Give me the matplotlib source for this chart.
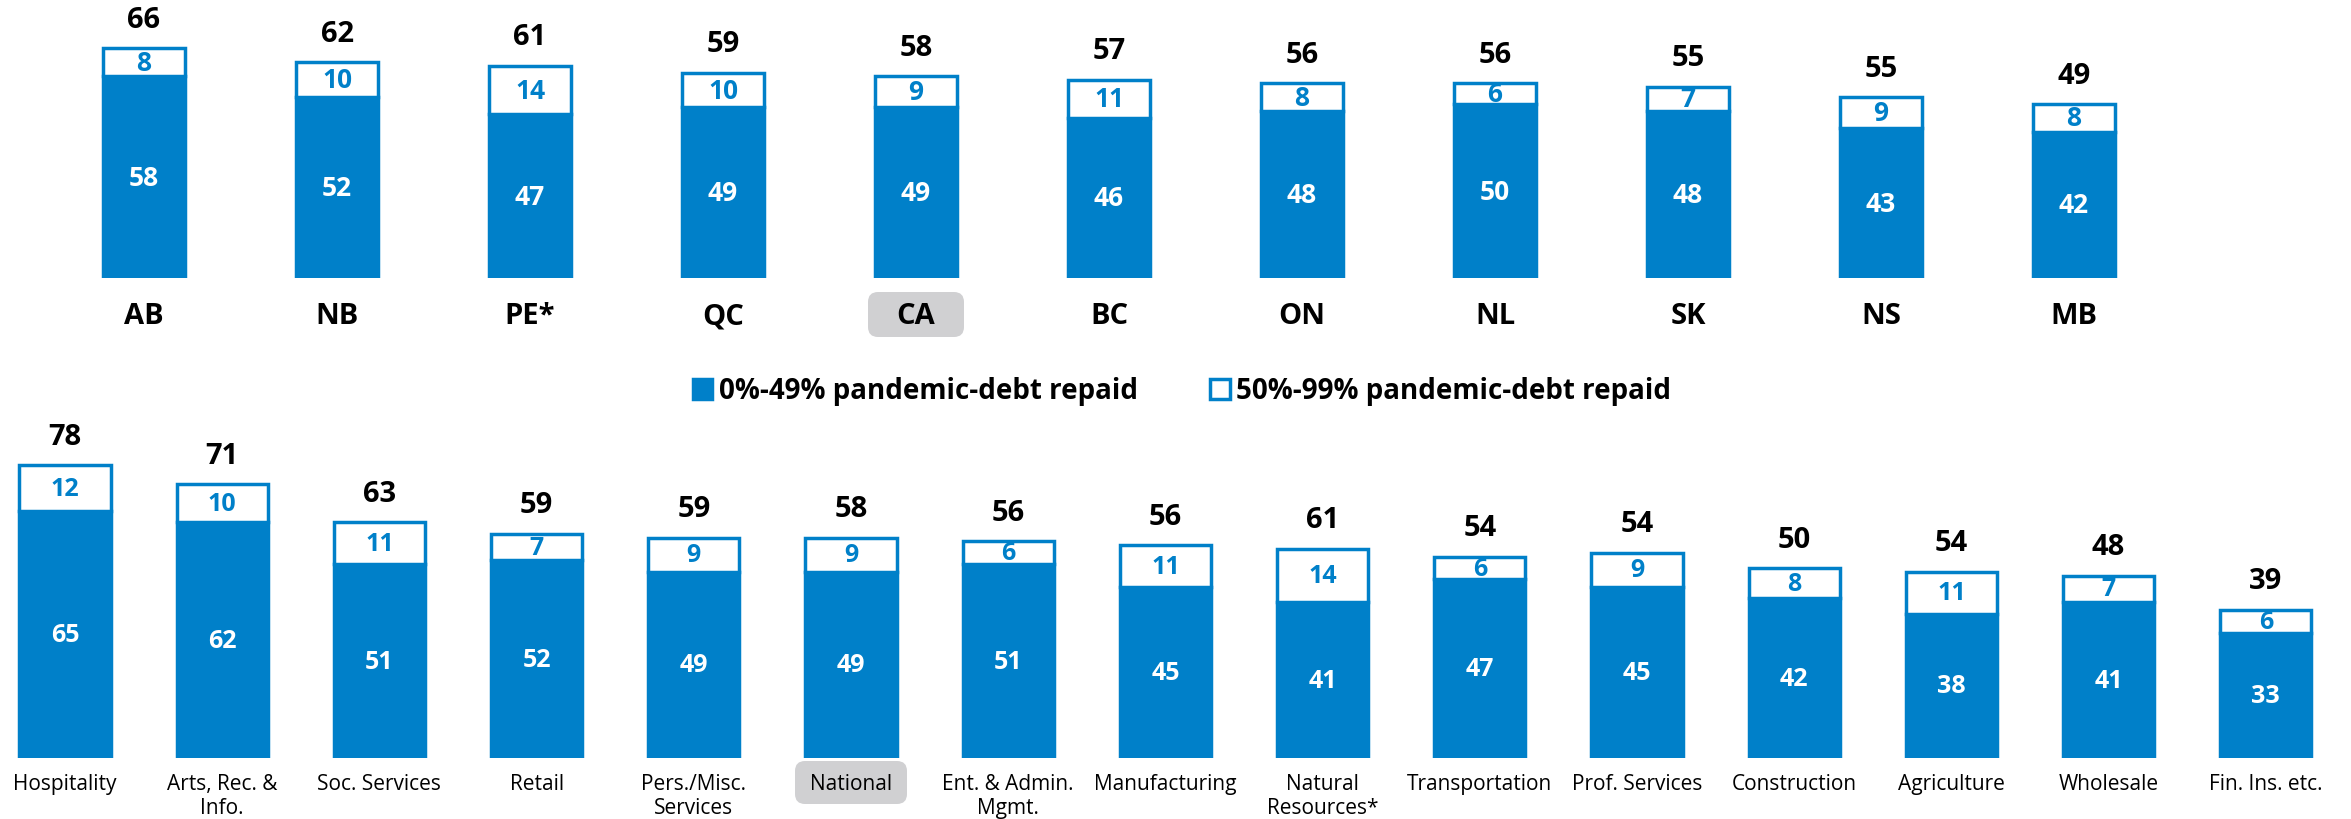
import matplotlib
matplotlib.use('Agg')
import matplotlib.pyplot as plt
from matplotlib.patches import FancyBboxPatch
from matplotlib.transforms import IdentityTransform

plt.rcParams['font.family'] = ['Open Sans', 'DejaVu Sans']

BLUE = '#0080C9'
GREY = '#D0D0D2'

# provinces (top row)
prov = ['AB', 'NB', 'PE*', 'QC', 'CA', 'BC', 'ON', 'NL', 'SK', 'NS', 'MB']
prov_low = [58, 52, 47, 49, 49, 46, 48, 50, 48, 43, 42]
prov_mid = [8, 10, 14, 10, 9, 11, 8, 6, 7, 9, 8]
prov_total = [66, 62, 61, 59, 58, 57, 56, 56, 55, 55, 49]

# sectors (bottom row)
sect = ['Hospitality', 'Arts, Rec. &\nInfo.', 'Soc. Services', 'Retail',
        'Pers./Misc.\nServices', 'National', 'Ent. & Admin.\nMgmt.', 'Manufacturing',
        'Natural\nResources*', 'Transportation', 'Prof. Services', 'Construction',
        'Agriculture', 'Wholesale', 'Fin. Ins. etc.']
sect_low = [65, 62, 51, 52, 49, 49, 51, 45, 41, 47, 45, 42, 38, 41, 33]
sect_mid = [12, 10, 11, 7, 9, 9, 6, 11, 14, 6, 9, 8, 11, 7, 6]
sect_total = [78, 71, 63, 59, 59, 58, 56, 56, 61, 54, 54, 50, 54, 48, 39]

legend_labels = ['0%-49% pandemic-debt repaid', '50%-99% pandemic-debt repaid']

W, H = 2351, 820
fig = plt.figure(figsize=(W / 100, H / 100), dpi=100)


def make_ax(base_px, top_px, x0_px, step_px, scale):
    ax = fig.add_axes([0, 1 - base_px / H, 1, (base_px - top_px) / H])
    ax.set_xlim(-x0_px / step_px, (W - x0_px) / step_px)
    ax.set_ylim(0, (base_px - top_px) / scale)
    ax.axis('off')
    return ax


def draw_row(ax, cats, low, mid, total, width, fs_total, fs_in, fs_cat, cat_bold, cat_off, cat_va):
    x = list(range(len(cats)))
    b1 = ax.bar(x, low, width, color=BLUE, edgecolor=BLUE, linewidth=2.5, zorder=2)
    b2 = ax.bar(x, mid, width, bottom=low, color='white', edgecolor=BLUE, linewidth=2.5, zorder=3)
    for i in x:
        ax.text(i, low[i] / 2, str(low[i]), ha='center', va='center', color='white',
                fontsize=fs_in, fontweight='bold', zorder=4)
        ax.text(i, low[i] + mid[i] / 2, str(mid[i]), ha='center', va='center', color=BLUE,
                fontsize=fs_in, fontweight='bold', zorder=4)
        ax.annotate(str(total[i]), (i, low[i] + mid[i]), xytext=(0, 29), textcoords='offset pixels',
                    ha='center', va='center', fontsize=fs_total, fontweight='bold', color='black')
        ax.annotate(cats[i], (i, 0), xytext=(0, cat_off), textcoords='offset pixels',
                    ha='center', va=cat_va, fontsize=fs_cat,
                    fontweight='bold' if cat_bold else 'normal', color='black',
                    linespacing=1.2, zorder=5, annotation_clip=False)
    return b1, b2


def grey_box(ax, idx, w_px, top_off, bot_off):
    # rounded highlight behind a category label, sized in pixels below the baseline
    cx, cy = ax.transData.transform((idx, 0))
    box = FancyBboxPatch((cx - w_px / 2, cy - bot_off), w_px, bot_off - top_off,
                         boxstyle='round,pad=0,rounding_size=10', transform=IdentityTransform(),
                         facecolor=GREY, edgecolor='none', zorder=1, clip_on=False)
    ax.add_artist(box)


ax_top = make_ax(279, 0, 144, 193, 3.48)
b1, b2 = draw_row(ax_top, prov, prov_low, prov_mid, prov_total, 0.42,
                  21, 19, 21, True, -38, 'center')
grey_box(ax_top, prov.index('CA'), 96, 14, 59)

ax_bot = make_ax(759, 400, 65, 157.2, 3.8)
draw_row(ax_bot, sect, sect_low, sect_mid, sect_total, 0.58,
         21, 18, 15, False, -15, 'top')
grey_box(ax_bot, sect.index('National'), 112, 3, 46)

fig.legend(handles=[b1, b2], labels=legend_labels, loc='center',
           bbox_to_anchor=(1182 / W, 1 - 392 / H), ncol=2, frameon=False,
           prop={'size': 20, 'weight': 'bold'}, handlelength=0.7, handleheight=0.7,
           handletextpad=0.25, columnspacing=2.6)

fig.savefig('out.png', dpi=100)
